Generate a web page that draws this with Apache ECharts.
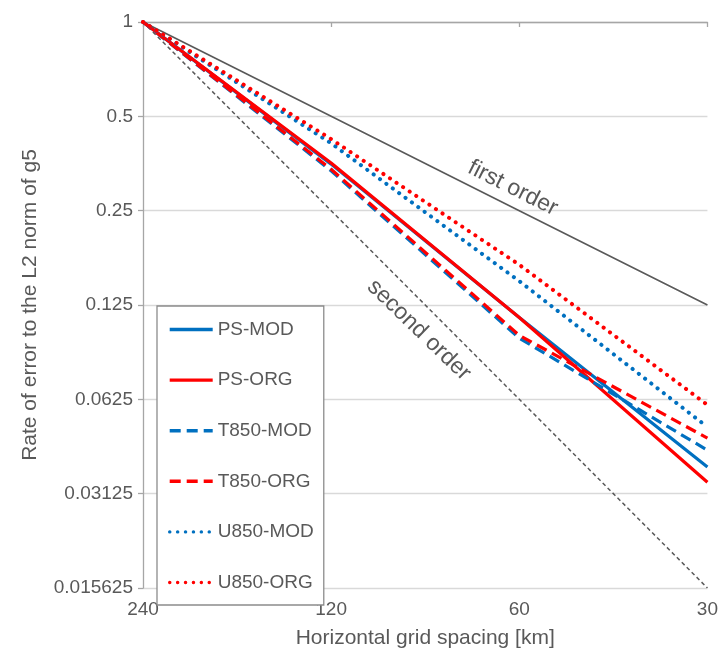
<!DOCTYPE html>
<html>
<head>
<meta charset="utf-8">
<script src="https://cdn.jsdelivr.net/npm/echarts@6/dist/echarts.min.js"></script>
<style>
  html, body { margin: 0; padding: 0; background: #fff; }
  #chart { width: 721px; height: 663px; }
</style>
</head>
<body>
<div id="chart"></div>
<script>
// grid spacing in km (x axis, halves at each step)
const spacing = [240, 120, 60, 30];
// y ticks are powers of two from 1 down to 1/64
const yTicks = [1, 0.5, 0.25, 0.125, 0.0625, 0.03125, 0.015625];

// reference slopes
const firstOrder = [1, 0.5, 0.25, 0.125];
const secondOrder = [1, 0.25, 0.0625, 0.015625];

// error rates
const psMod = [1, 0.352, 0.114, 0.038];
const psOrg = [1, 0.355, 0.114, 0.034];
const t850Mod = [1, 0.335, 0.098, 0.043];
const t850Org = [1, 0.339, 0.100, 0.047];
const u850Mod = [1, 0.41, 0.149, 0.051];
const u850Org = [1, 0.423, 0.168, 0.060];

const grey = '#595959';
const blue = '#0070C0';
const red = '#FF0000';
const font = 'Liberation Sans, Arial, sans-serif';

// both axes are log2 of the real values
const lg = v => Math.log2(v);
const toPts = arr => arr.map((v, i) => [lg(spacing[0] / spacing[i]), lg(v)]);

const dashed = [11, 6];
const dotted = [0.1, 7.8];

function makeLine(name, data, color, dash) {
  return {
    name: name,
    type: 'line',
    data: toPts(data),
    symbol: 'none',
    silent: true,
    lineStyle: {
      color: color,
      width: dash === dotted ? 4 : 3.2,
      type: dash,
      cap: dash === dotted ? 'round' : 'butt'
    },
    itemStyle: { color: color },
    z: 3
  };
}

// invisible anchor point carrying a rotated text label
function textMark(text, coord, rotate) {
  return {
    symbol: 'rect', symbolSize: 1, silent: true,
    itemStyle: { color: 'rgba(0,0,0,0)' },
    data: [{ coord: coord, name: text }],
    label: {
      show: true, position: 'inside', formatter: text, rotate: rotate,
      color: grey, fontSize: 23, fontFamily: font
    }
  };
}

const chart = echarts.init(document.getElementById('chart'));
chart.setOption({
  animation: false,
  textStyle: { fontFamily: font },
  grid: { left: 143, top: 22, right: 13, bottom: 75 },
  xAxis: {
    type: 'value',
    min: 0, max: 3, interval: 1,
    name: 'Horizontal grid spacing [km]',
    nameLocation: 'middle',
    nameGap: 40,
    nameTextStyle: { color: grey, fontSize: 21, fontFamily: font },
    axisLine: { lineStyle: { color: '#a6a6a6', width: 1.3 } },
    axisTick: { show: true, length: 5, lineStyle: { color: '#a6a6a6', width: 1.3 } },
    axisLabel: {
      color: grey, fontSize: 19, margin: 12, fontFamily: font,
      formatter: v => String(spacing[0] / Math.pow(2, v))
    },
    splitLine: { show: false }
  },
  yAxis: {
    type: 'value',
    min: lg(yTicks[yTicks.length - 1]), max: lg(yTicks[0]), interval: 1,
    name: 'Rate of error to the L2 norm of g5',
    nameLocation: 'middle',
    nameGap: 102,
    nameTextStyle: { color: grey, fontSize: 21, fontFamily: font },
    axisLine: { show: true, lineStyle: { color: '#a6a6a6', width: 1.3 } },
    axisTick: { show: true, length: 5, lineStyle: { color: '#a6a6a6', width: 1.3 } },
    axisLabel: {
      color: grey, fontSize: 19, margin: 10, fontFamily: font,
      formatter: v => String(Math.pow(2, v))
    },
    splitLine: { show: true, lineStyle: { color: '#d9d9d9', width: 1.3 } }
  },
  legend: {
    orient: 'vertical',
    left: 157, top: 306,
    padding: [14, 10, 13, 11],
    itemWidth: 43, itemHeight: 14, itemGap: 31.6,
    backgroundColor: '#fff',
    borderColor: '#8c8c8c', borderWidth: 1.3,
    itemStyle: { opacity: 0 },
    lineStyle: { width: 3.4 },
    textStyle: { color: grey, fontSize: 19, fontFamily: font },
    data: ['PS-MOD', 'PS-ORG', 'T850-MOD', 'T850-ORG', 'U850-MOD', 'U850-ORG']
  },
  series: [
    {
      name: 'first order', type: 'line', data: toPts(firstOrder), symbol: 'none', silent: true,
      lineStyle: { color: grey, width: 1.6 }, z: 2,
      markPoint: textMark('first order', [1.965, lg(0.295)], -26.6)
    },
    {
      name: 'second order', type: 'line', data: toPts(secondOrder), symbol: 'none', silent: true,
      lineStyle: { color: grey, width: 1.5, type: [4, 3] }, z: 2,
      markPoint: textMark('second order', [1.466, lg(0.104)], -44)
    },
    makeLine('PS-MOD', psMod, blue, 'solid'),
    makeLine('PS-ORG', psOrg, red, 'solid'),
    makeLine('T850-MOD', t850Mod, blue, dashed),
    makeLine('T850-ORG', t850Org, red, dashed),
    makeLine('U850-MOD', u850Mod, blue, dotted),
    makeLine('U850-ORG', u850Org, red, dotted)
  ]
});
</script>
</body>
</html>
